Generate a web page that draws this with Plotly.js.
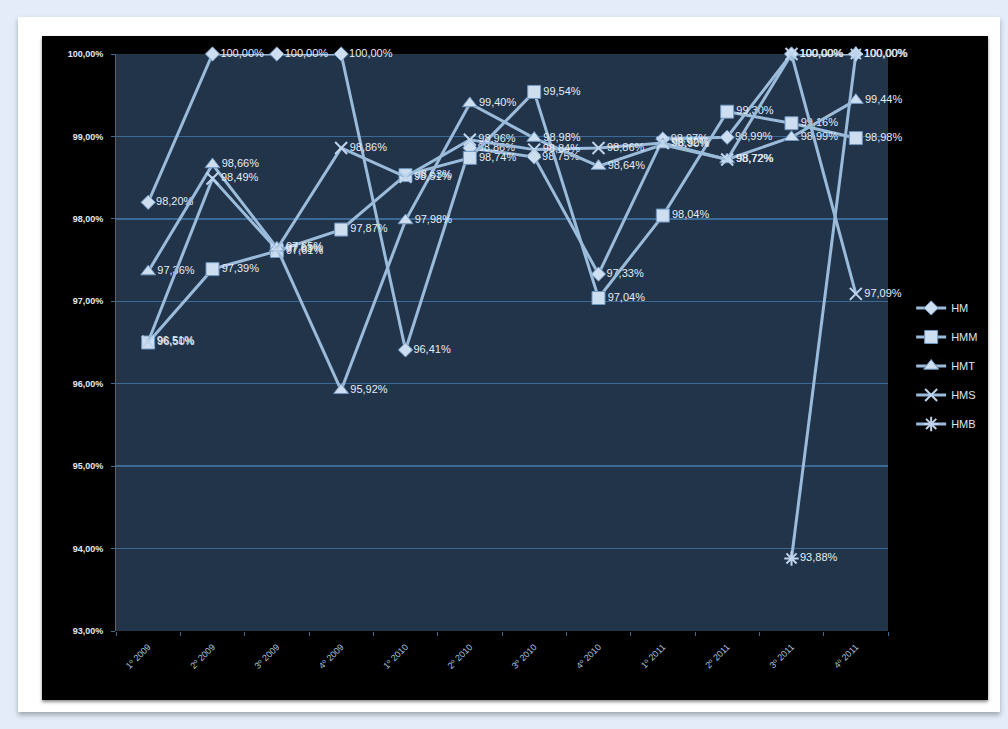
<!DOCTYPE html>
<html><head><meta charset="utf-8">
<script src="https://cdn.plot.ly/plotly-3.0.1.min.js"></script>
<style>
html,body{margin:0;padding:0;width:1008px;height:729px;background:#e3ecf8;overflow:hidden;}
#card{position:absolute;left:18px;top:17px;width:982px;height:695px;background:#fff;box-shadow:0 3px 5px rgba(0,0,0,0.30);}
#chart{position:absolute;left:42px;top:36px;width:946px;height:664px;box-shadow:0 2px 3px rgba(0,0,0,0.45);}
</style></head><body>
<div id="card"></div><div id="chart"></div>
<script>
// Categories (quarters)
const quarters = ["1º 2009","2º 2009","3º 2009","4º 2009","1º 2010","2º 2010","3º 2010","4º 2010","1º 2011","2º 2011","3º 2011","4º 2011"];
// Series values (%)
const HM  = [98.20, 100.00, 100.00, 100.00, 96.41, 98.86, 98.75, 97.33, 98.97, 98.99, 100.00, 100.00];
const HMM = [96.50, 97.39, 97.61, 97.87, 98.53, 98.74, 99.54, 97.04, 98.04, 99.30, 99.16, 98.98];
const HMT = [97.36, 98.66, 97.65, 95.92, 97.98, 99.40, 98.98, 98.64, 98.90, 98.72, 98.99, 99.44];
const HMS = [96.51, 98.49, 97.63, 98.86, 98.51, 98.96, 98.84, 98.86, 98.92, 98.72, 100.00, 97.09];
const HMB = [null, null, null, null, null, null, null, null, null, null, 93.88, 100.00];
const seriesNames = ["HM","HMM","HMT","HMS","HMB"];
const seriesData = [HM, HMM, HMT, HMS, HMB];
const symbols = ["diamond","square","triangle-up","x-thin-open","asterisk-open"];

const lineColor = "rgb(155,187,219)";
const markerFill = "rgb(205,222,240)";
const traces = seriesData.map((vals, k) => {
  const thin = symbols[k].indexOf("open") >= 0;
  return {
    type: "scatter",
    mode: "lines+markers+text",
    name: seriesNames[k],
    legendgroup: seriesNames[k],
    x: quarters,
    y: vals,
    text: vals.map(v => v == null ? "" : v.toFixed(2).replace(".", ",") + "%"),
    textposition: "middle right",
    textfont: {family: "Liberation Sans, Arial, sans-serif", size: 11, color: "#e4ecf5"},
    cliponaxis: false,
    line: {color: lineColor, width: 3},
    marker: {
      symbol: symbols[k],
      size: thin ? 12 : (symbols[k] === "diamond" ? 11 : 13),
      color: thin ? "rgb(190,212,236)" : markerFill,
      line: {color: thin ? "rgb(190,212,236)" : "rgb(110,150,190)", width: thin ? 2 : 1}
    },
    hoverinfo: "skip"
  };
});

const layout = {
  width: 946, height: 664,
  margin: {l: 74, r: 100, t: 18, b: 69, autoexpand: false},
  paper_bgcolor: "#000000",
  plot_bgcolor: "#22344a",
  separators: ",.",
  showlegend: true,
  legend: {
    x: 1.03, xanchor: "left", y: 0.585, yanchor: "top",
    bgcolor: "rgba(0,0,0,0)",
    font: {family: "Liberation Sans, Arial, sans-serif", size: 11, color: "#dce6f0"},
    tracegroupgap: 10,
    itemwidth: 30
  },
  xaxis: {
    type: "category",
    range: [-0.5, 11.5],
    tickson: "boundaries",
    ticks: "outside", ticklen: 4, tickcolor: "#3b6a96", tickwidth: 1,
    tickangle: -45,
    ticklabelstandoff: 8,
    tickfont: {family: "Liberation Sans, Arial, sans-serif", size: 9, color: "#a9c2dc"},
    showgrid: false, zeroline: false,
    showline: false
  },
  yaxis: {
    range: [93, 100],
    dtick: 1,
    tickformat: ".2f", ticksuffix: "%",
    tickfont: {family: "Liberation Sans, Arial, sans-serif", size: 9, color: "#e0e8f2", weight: "bold"},
    ticks: "outside", ticklen: 4, tickcolor: "#3b6a96",
    ticklabelstandoff: 6,
    showgrid: true, gridcolor: "#3b6a96", gridwidth: 1.5,
    zeroline: false, showline: true, linecolor: "#3b6a96"
  }
};

Plotly.newPlot("chart", traces, layout, {displayModeBar: false, staticPlot: true});
</script>
</body></html>
